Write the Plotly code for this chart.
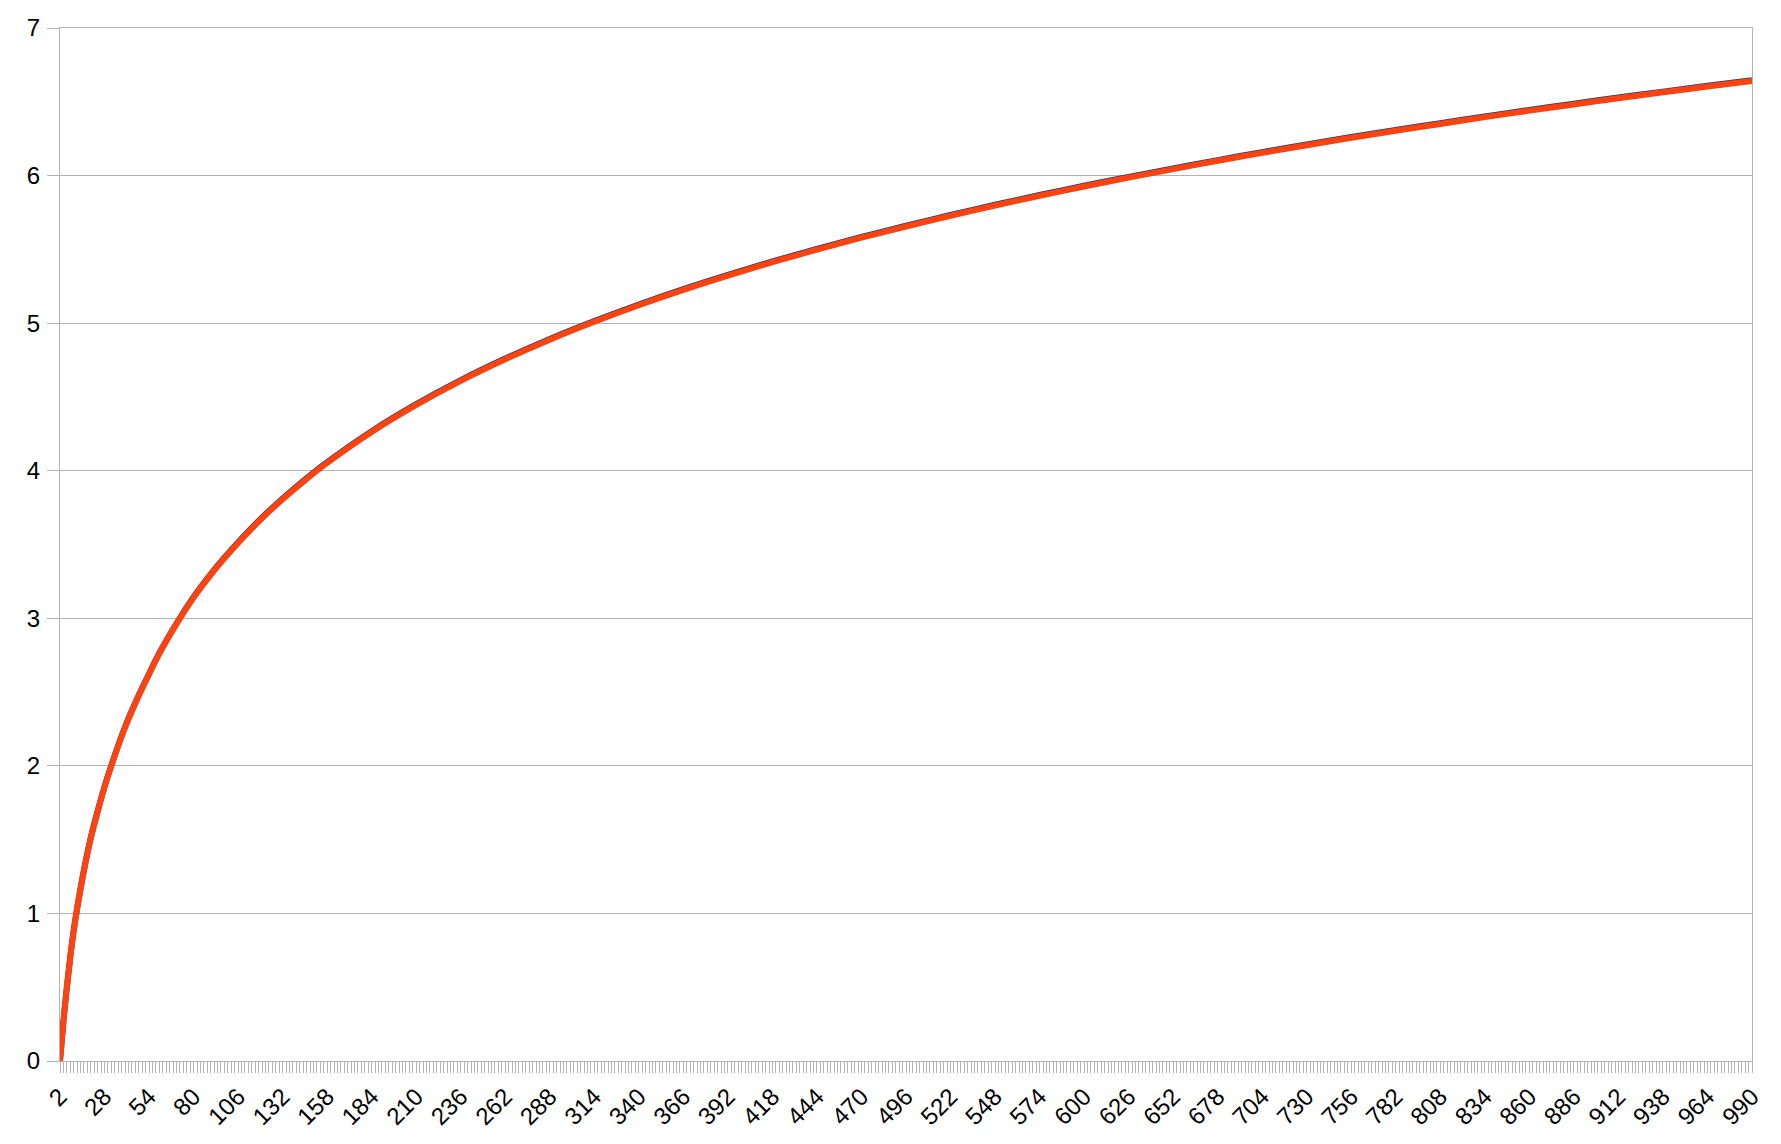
import plotly.graph_objects as go

x_vals = [2, 4, 6, 8, 10, 12, 16, 20, 24, 28, 32, 40, 48, 54, 60, 70, 80, 90, 106, 120, 132, 145,
          158, 184, 210, 236, 262, 288, 314, 340, 366, 392, 418, 444, 470, 496, 522, 548, 574,
          600, 626, 652, 678, 704, 730, 756, 782, 808, 834, 860, 886, 912, 938, 964, 990]

series_red = [0.000, 0.265, 0.495, 0.700, 0.880, 1.030, 1.290, 1.510, 1.690, 1.855, 2.000, 2.260,
              2.475, 2.620, 2.760, 2.960, 3.140, 3.295, 3.510, 3.678, 3.807, 3.935,
              4.053, 4.263, 4.446, 4.609, 4.755, 4.888, 5.009, 5.121, 5.225, 5.322, 5.413, 5.498,
              5.579, 5.655, 5.728, 5.797, 5.863, 5.926, 5.986, 6.044, 6.100, 6.154, 6.206, 6.256,
              6.304, 6.350, 6.396, 6.440, 6.482, 6.524, 6.564, 6.603, 6.641]

series_blue = [0.000, 0.270, 0.500, 0.705, 0.885, 1.035, 1.295, 1.515, 1.695, 1.860, 2.005, 2.265,
               2.480, 2.625, 2.765, 2.965, 3.145, 3.300, 3.515, 3.683, 3.812, 3.940,
               4.058, 4.268, 4.451, 4.614, 4.760, 4.893, 5.014, 5.126, 5.230, 5.327, 5.418, 5.503,
               5.584, 5.660, 5.733, 5.802, 5.868, 5.931, 5.991, 6.049, 6.105, 6.159, 6.211, 6.261,
               6.309, 6.355, 6.401, 6.445, 6.487, 6.529, 6.569, 6.608, 6.646]

tick_labels = list(range(2, 991, 26))
y_ticks = [0, 1, 2, 3, 4, 5, 6, 7]

FONT = "Liberation Sans, Arial, sans-serif"
GRID = "#b3b3b3"

fig = go.Figure()
fig.add_trace(go.Scatter(x=x_vals, y=series_blue, mode="lines",
                         line=dict(color="#004586", width=6, shape="spline", smoothing=0.8),
                         showlegend=False, hoverinfo="skip"))
fig.add_trace(go.Scatter(x=x_vals, y=series_red, mode="lines",
                         line=dict(color="#ff420e", width=6, shape="spline", smoothing=0.8),
                         showlegend=False, hoverinfo="skip"))

fig.update_layout(
    width=1781, height=1144,
    margin=dict(l=52, r=37, t=20, b=91),
    paper_bgcolor="white", plot_bgcolor="white",
    font=dict(family=FONT, size=24, color="black"),
    showlegend=False,
)

fig.update_xaxes(
    range=[2, 990], automargin=False,
    tickmode="array", tickvals=tick_labels, ticktext=[str(v) for v in tick_labels],
    tickangle=-45,
    ticks="outside", ticklen=11, tickcolor=GRID, tickwidth=1,
    minor=dict(tick0=2, dtick=2, ticks="outside", ticklen=11, tickcolor=GRID, tickwidth=1, showgrid=False),
    showgrid=False, zeroline=False,
    showline=True, linecolor=GRID, linewidth=1, mirror=True,
    tickfont=dict(family=FONT, size=24, color="black"),
)
fig.update_yaxes(
    range=[0, 7], automargin=False,
    tickmode="array", tickvals=y_ticks, ticktext=[str(v) for v in y_ticks],
    ticks="outside", ticklen=12, tickcolor=GRID, tickwidth=1,
    ticklabelstandoff=2,
    showgrid=True, gridcolor=GRID, gridwidth=1, zeroline=False,
    showline=True, linecolor=GRID, linewidth=1, mirror=True,
    tickfont=dict(family=FONT, size=24, color="black"),
)

fig.write_html("out.html")
